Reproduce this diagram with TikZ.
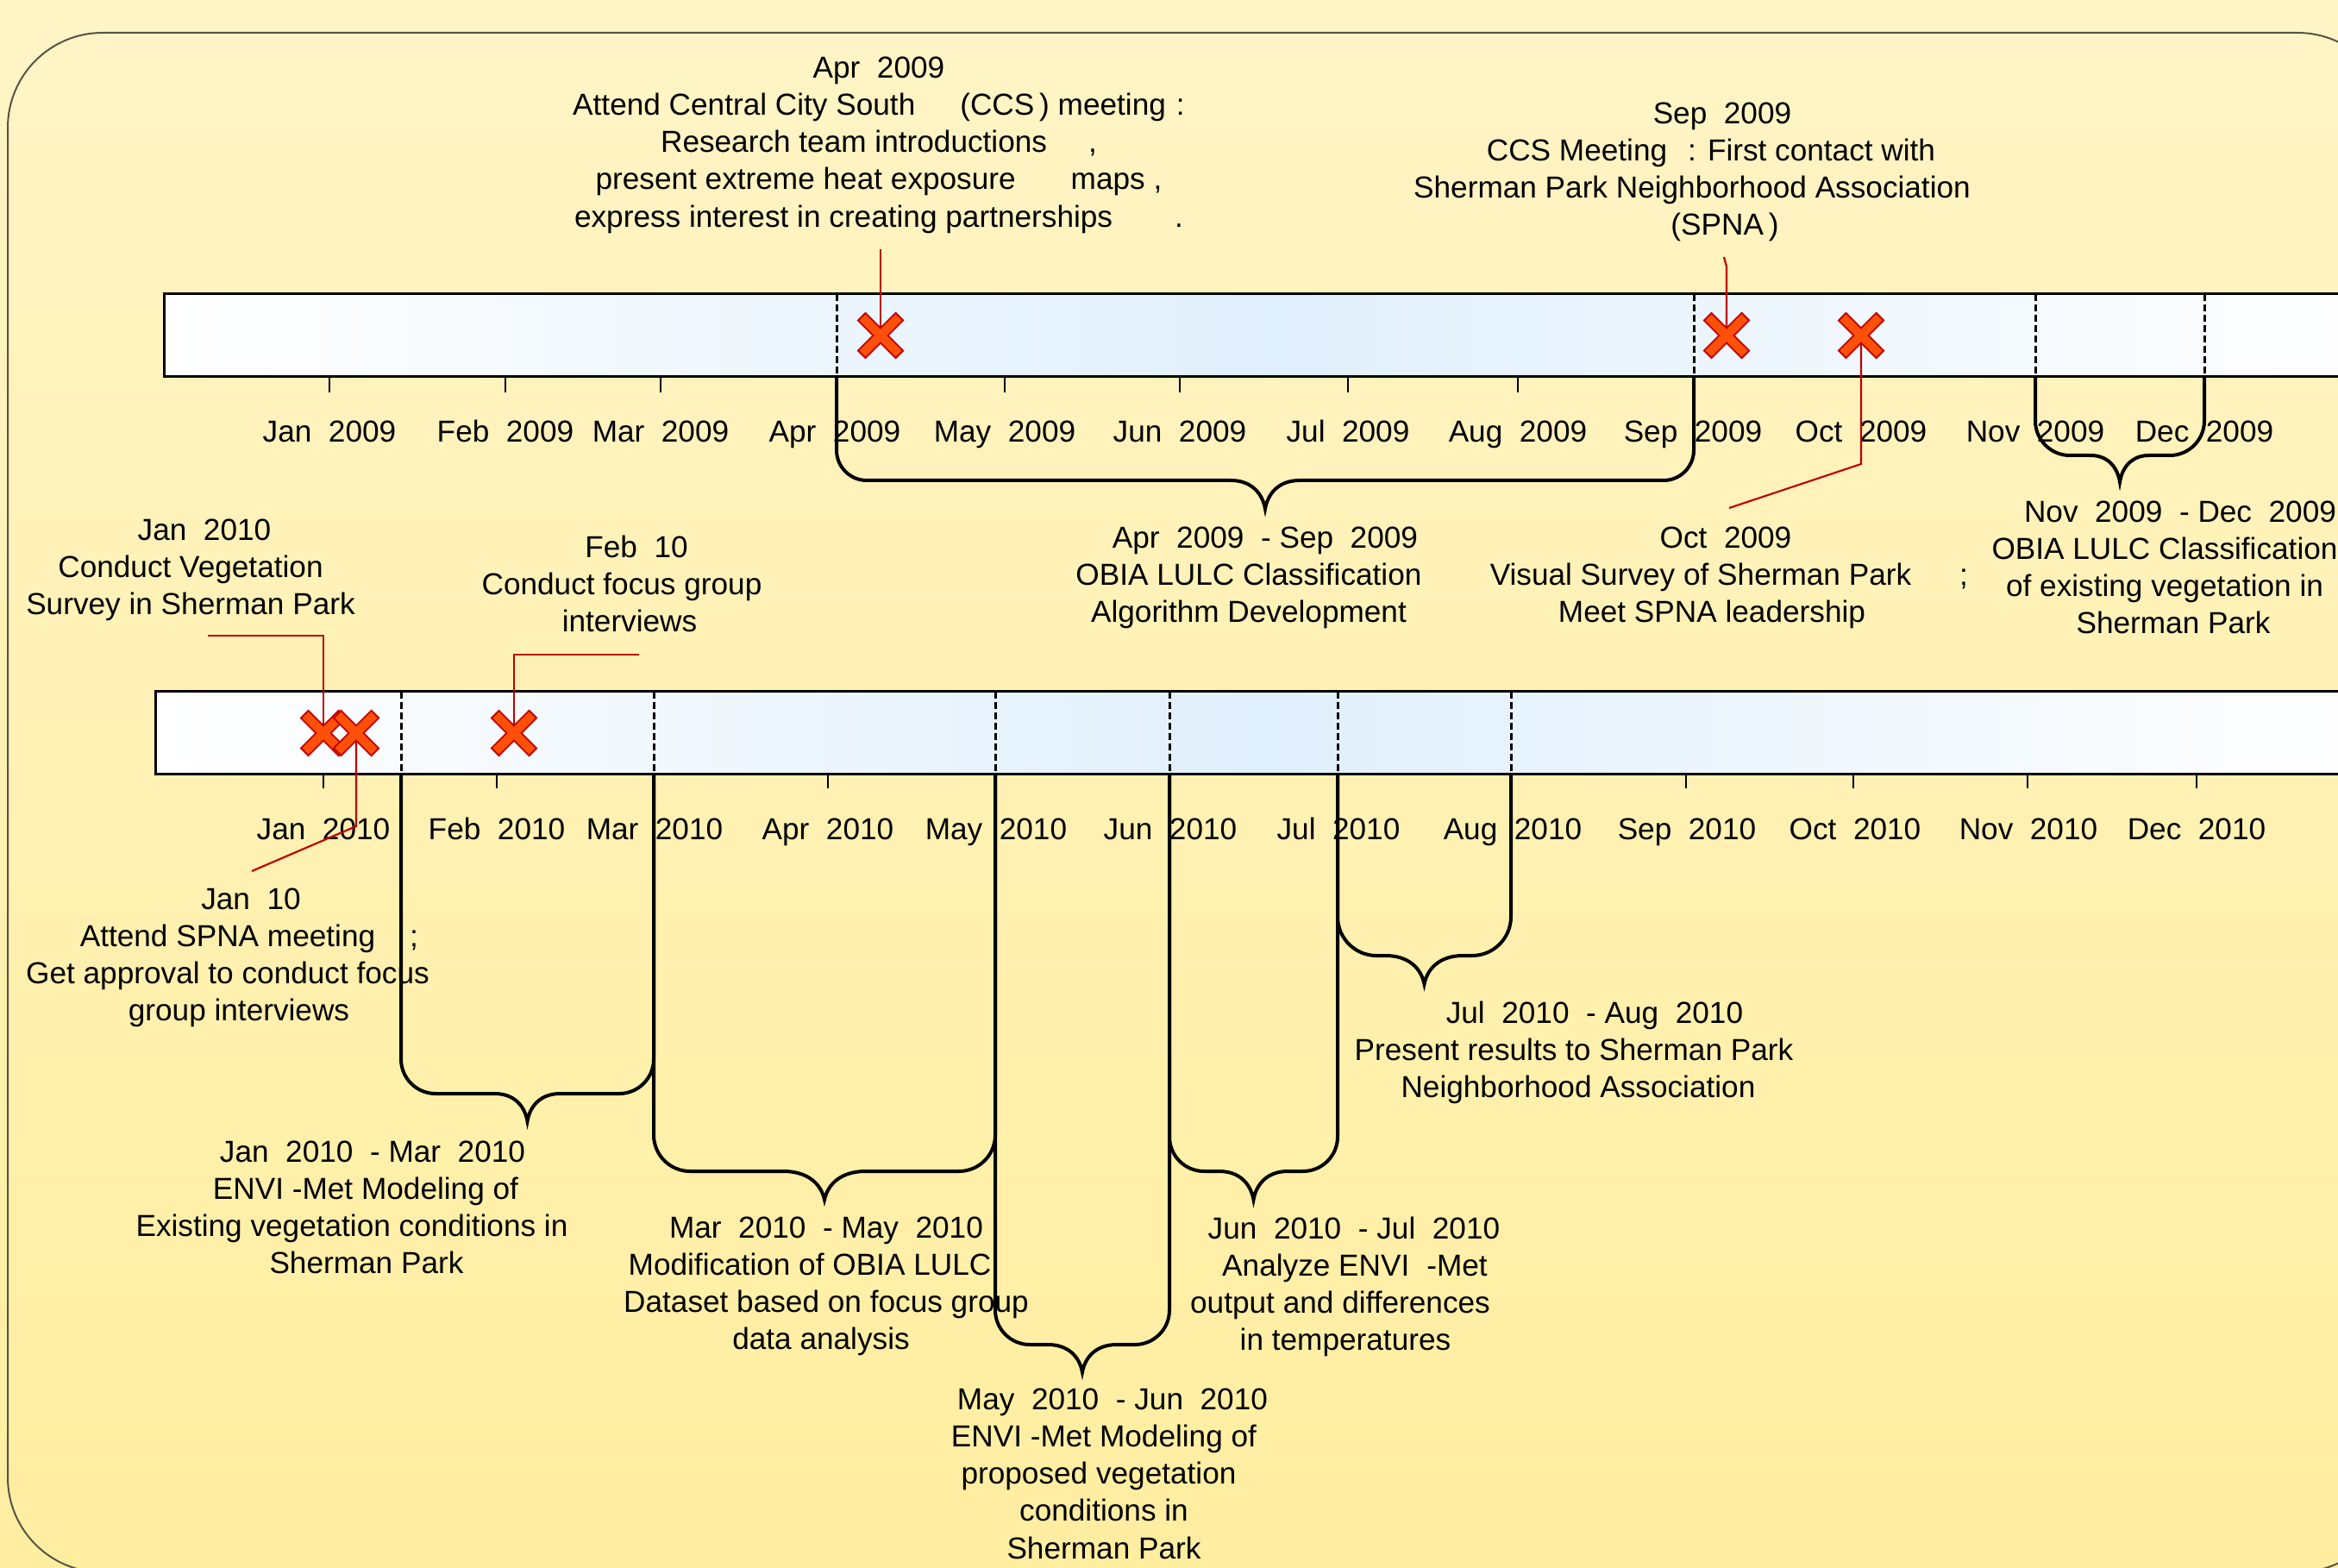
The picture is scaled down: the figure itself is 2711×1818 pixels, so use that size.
\documentclass[tikz,border=0pt]{standalone}
\usepackage{fontspec}
\setmainfont{Liberation Sans}
\definecolor{bgtop}{RGB}{255,244,198}
\definecolor{bgbot}{RGB}{255,238,160}
\definecolor{barblue}{RGB}{224,239,252}
\definecolor{xdarkred}{RGB}{192,0,0}
\definecolor{xorange}{RGB}{255,80,10}
\definecolor{framecol}{RGB}{85,85,70}
\newcommand\lpad[1]{\mbox{}\hspace*{#1}}
\newcommand\rpad[1]{\hspace*{#1}\mbox{}}
\newcommand\drawX[1]{%
  \draw[xout] ([shift={(-22.5,-22.5)}]#1.center) -- ([shift={(22.5,22.5)}]#1.center)
              ([shift={(-22.5,22.5)}]#1.center) -- ([shift={(22.5,-22.5)}]#1.center);
  \draw[xin] ([shift={(-21,-21)}]#1.center) -- ([shift={(21,21)}]#1.center)
             ([shift={(-21,21)}]#1.center) -- ([shift={(21,-21)}]#1.center);}
% x1, x2, ytop, yh, depth, corner radius, cusp half-width
\newcommand\mybrace[7]{%
  \draw[brace] (#1,#3) -- (#1,#4-#6) .. controls (#1,#4-0.45*#6) and (#1+0.45*#6,#4) .. (#1+#6,#4)
   -- ({(#1+#2)/2-#7},#4) .. controls ({(#1+#2)/2-0.4*#7},#4) and ({(#1+#2)/2-0.08*#7},{#4+0.45*#5}) .. ({(#1+#2)/2},{#4+#5})
   .. controls ({(#1+#2)/2+0.08*#7},{#4+0.45*#5}) and ({(#1+#2)/2+0.4*#7},#4) .. ({(#1+#2)/2+#7},#4)
   -- (#2-#6,#4) .. controls (#2-0.45*#6,#4) and (#2,#4-0.45*#6) .. (#2,#4-#6) -- (#2,#3);}
\begin{document}
\begin{tikzpicture}[x=0.25pt,y=-0.25pt,
  txt/.style={align=center,inner sep=0pt,anchor=north,font=\fontsize{8.8}{10.8}\selectfont},
  mlab/.style={anchor=base,inner sep=0pt,font=\fontsize{8.8}{10.8}\selectfont},
  bar/.style={draw=black,line width=0.75pt,left color=white,right color=white,middle color=barblue},
  tick/.style={line width=0.6pt},
  dashln/.style={line width=0.75pt,dash pattern=on 2pt off 1pt},
  brace/.style={line width=1pt},
  conn/.style={draw=xdarkred,line width=0.55pt},
  xmark/.style={inner sep=0pt,minimum size=11.25pt},
  xout/.style={draw=xdarkred,line width=3.5pt},
  xin/.style={draw=xorange,line width=2.5pt},
]
\useasboundingbox (0,0) rectangle (2711,1818);
\clip (0,0) rectangle (2711,1818);
\fill[top color=bgtop,bottom color=bgbot] (0,0) rectangle (2711,1818);
\draw[draw=framecol,line width=0.5pt,rounded corners=27.5pt] (9,38) rectangle (2774,1823);

% bars
\draw[bar] (190,341) rectangle (2760,437);
\draw[bar] (180,802) rectangle (2760,897);

% dashed period lines
\foreach \x in {970,1964,2360,2556} \draw[dashln] (\x,341) -- (\x,437);
\foreach \x in {465,758,1154,1356,1551,1752} \draw[dashln] (\x,802) -- (\x,897);

% ticks
\foreach \x in {382,586,766,1165,1368,1563,1760,2158} \draw[tick] (\x,437) -- (\x,455);
\foreach \x in {375,576,960,1955,2149,2351,2547} \draw[tick] (\x,897) -- (\x,914);

% month labels
\foreach \m/\x [count=\i] in {Jan/382,Feb/586,Mar/766,Apr/968,May/1165,Jun/1368,Jul/1563,Aug/1760,Sep/1963,Oct/2158,Nov/2360,Dec/2556}
  \node[mlab] (ta\i) at (\x,513) {\m~~2009};
\foreach \m/\x [count=\i] in {Jan/375,Feb/576,Mar/759,Apr/960,May/1155,Jun/1357,Jul/1552,Aug/1754,Sep/1956,Oct/2151,Nov/2352,Dec/2547}
  \node[mlab] (tb\i) at (\x,973) {\m~~2010};

% braces
\mybrace{970}{1964}{437}{557}{33}{35}{40}
\mybrace{2360}{2556}{437}{528}{31}{40}{34}
\mybrace{465}{758}{897}{1268}{32}{40}{38}
\mybrace{758}{1154}{897}{1358}{33}{42}{48}
\mybrace{1154}{1356}{897}{1559}{32}{40}{40}
\mybrace{1356}{1551}{897}{1358}{33}{40}{40}
\mybrace{1551}{1752}{897}{1108}{33}{45}{45}

% markers
\node[xmark] (xapr) at (1021,389) {};
\node[xmark] (xsep) at (2002,389) {};
\node[xmark] (xoct) at (2158,389) {};
\node[xmark] (xjan) at (375,850) {};
\node[xmark] (xjanb) at (413,850) {};
\node[xmark] (xfeb) at (596,850) {};

\coordinate (capr) at (1021,289);
\coordinate (csep1) at (2002,309);
\coordinate (csep2) at (1999,298);
\coordinate (coct1) at (2158,538);
\coordinate (coct2) at (2005,589);
\coordinate (cjan1) at (375,737);
\coordinate (cjan2) at (241,737);
\coordinate (cjb1) at (413,958);
\coordinate (cjb2) at (292,1010);
\coordinate (cfeb1) at (596,759);
\coordinate (cfeb2) at (741,759);

\draw[conn] (xapr.center) -- (capr);
\draw[conn] (xsep.center) -- (csep1) -- (csep2);
\draw[conn] (xoct.center) -- (coct1) -- (coct2);
\draw[conn] (xjan.center) -- (cjan1) -- (cjan2);
\draw[conn] (xjanb.center) -- (cjb1) -- (cjb2);
\draw[conn] (xfeb.center) -- (cfeb1) -- (cfeb2);

\drawX{xapr}
\drawX{xsep}
\drawX{xoct}
\drawX{xjan}
\drawX{xjanb}
\drawX{xfeb}

% texts
\node[txt] (napr) at (1019,65) {Apr~~2009\\
  Attend Central City South\hspace{13pt}(CCS\,) meeting\hspace{3pt}:\\
  Research team introductions\hspace{12pt},\\
  present extreme heat exposure\hspace{16pt}maps ,\\
  express interest in creating partnerships\hspace{18pt}.};
\node[txt] (nsep) at (1962,118) {\lpad{17.5pt}Sep~~2009\\
  \lpad{11pt}CCS Meeting\hspace{6pt}: First contact with\\
  Sherman Park Neighborhood Association\\
  \lpad{19pt}(SPNA\,)};
\node[txt] (noct) at (1972,610) {\lpad{14.5pt}Oct~~2009\\
  Visual Survey of Sherman Park\rlap{\hspace{14pt};}\\
  \lpad{6.5pt}Meet SPNA leadership};
\node[txt] (nnovdec) at (2510,580) {\lpad{9pt}Nov~~2009~~- Dec~~2009\\
  OBIA LULC Classification\\
  of existing vegetation in\\
  \lpad{5pt}Sherman Park};
\node[txt] (naprsep) at (1448,610) {\lpad{9.5pt}Apr~~2009~~- Sep~~2009\\
  OBIA LULC Classification\\
  Algorithm Development};
\node[txt] (njan) at (221,601) {\lpad{8pt}Jan~~2010\\
  Conduct Vegetation\\
  Survey in Sherman Park};
\node[txt] (nfeb) at (721,620) {\lpad{8.5pt}Feb~~10\\
  Conduct focus group\\
  \lpad{4.5pt}interviews};
\node[txt] (njanb) at (264,1029) {\lpad{13.5pt}Jan~~10\\
  Attend SPNA meeting\rlap{\hspace{10pt};}\\
  Get approval to conduct focus\\
  \lpad{6.5pt}group interviews};
\node[txt] (njanmar) at (408,1322) {\lpad{12pt}Jan~~2010~~- Mar~~2010\\
  \lpad{8pt}ENVI -Met Modeling of\\
  Existing vegetation conditions in\\
  \lpad{8.5pt}Sherman Park};
\node[txt] (nmarmay) at (958,1410) {Mar~~2010~~- May~~2010\\
  Modification of OBIA LULC\rpad{9.5pt}\\
  Dataset based on focus group\\
  data analysis\rpad{3pt}};
\node[txt] (nmayjun) at (1280,1609) {\lpad{5pt}May~~2010~~- Jun~~2010\\
  ENVI -Met Modeling of\\
  proposed vegetation\rpad{3pt}\\
  conditions in\\
  Sherman Park};
\node[txt] (njunjul) at (1554,1410) {\lpad{8pt}Jun~~2010~~- Jul~~2010\\
  \lpad{8.5pt}Analyze ENVI\hspace{5pt}-Met\\
  output and differences\\
  \lpad{3pt}in temperatures};
\node[txt] (njulaug) at (1825,1160) {\lpad{12pt}Jul~~2010~~- Aug~~2010\\
  Present results to Sherman Park\\
  \lpad{2.5pt}Neighborhood Association};
\end{tikzpicture}
\end{document}
